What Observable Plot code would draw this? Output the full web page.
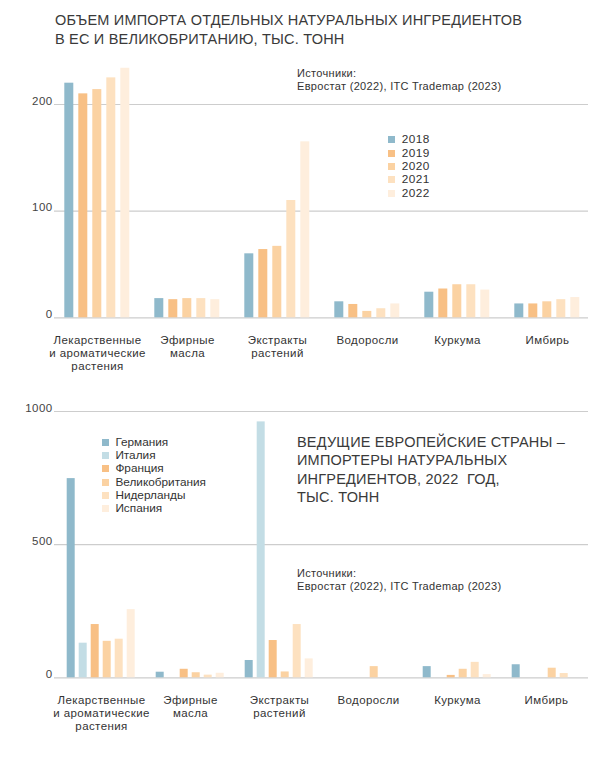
<!DOCTYPE html>
<html>
<head>
<meta charset="utf-8">
<script src="https://cdn.jsdelivr.net/npm/d3@7"></script>
<script src="https://cdn.jsdelivr.net/npm/@observablehq/plot@0.6"></script>
<style>
  html, body { margin: 0; padding: 0; background: #fff; }
  #page { position: relative; width: 600px; height: 758px; overflow: hidden; font-family: "Liberation Sans", Arial, sans-serif; color: #2b2b2b; }
  .layer { position: absolute; left: 0; }
  .layer svg { background: transparent !important; }
  .title { position: absolute; font-size: 14.5px; font-weight: 400; letter-spacing: 0.2px; color: #3a3a3a; white-space: pre; }
  .title .ln { display: block; height: 18.5px; line-height: 18.5px; }
  .source { position: absolute; font-size: 11px; letter-spacing: 0.32px; color: #333; white-space: nowrap; }
  .source .ln { display: block; height: 13px; line-height: 13px; }
  .legend { position: absolute; font-size: 11.8px; letter-spacing: 0px; color: #333; }
  .legend.years { letter-spacing: 0.5px; }
  .legend .row { display: flex; align-items: center; height: 13.3px; white-space: nowrap; }
  .legend .tx { display: inline-block; height: 13px; line-height: 13px; }
  .legend .sw { width: 7px; height: 7px; margin-right: 6.7px; flex: none; }
</style>
</head>
<body>
<div id="page"></div>
<script>
// ---------- DATA ----------
const categories = ["Лекарственные и ароматические растения", "Эфирные масла", "Экстракты растений", "Водоросли", "Куркума", "Имбирь"];
const categoryLabels = ["Лекарственные\nи ароматические\nрастения", "Эфирные\nмасла", "Экстракты\nрастений", "Водоросли", "Куркума", "Имбирь"];

// Chart 1: imports by year, thousand tonnes
const years = ["2018", "2019", "2020", "2021", "2022"];
const imports2018 = [220, 18, 60, 15, 24, 13];
const imports2019 = [210, 17, 64, 12.5, 27, 13];
const imports2020 = [214, 18, 67, 6, 31, 15];
const imports2021 = [225, 18, 110, 8.5, 31, 17];
const imports2022 = [234, 17, 165, 13, 26, 19];
const yearColors = ["#8fb9cb", "#f8c085", "#fbd2a2", "#fde1c0", "#feeedd"];
const ticks1 = [0, 100, 200];

// Chart 2: leading importers, 2022, thousand tonnes
const countries = ["Германия", "Италия", "Франция", "Великобритания", "Нидерланды", "Испания"];
const germany = [748, 21, 65, 0, 42, 49];
const italy = [130, 0, 961, 0, 0, 0];
const france = [200, 32, 140, 0, 9, 0];
const uk = [137, 19, 22, 42, 32, 36];
const netherlands = [145, 10, 200, 0, 58, 16];
const spain = [256, 17, 71, 0, 12, 0];
const countryColors = ["#8fb9cb", "#c3dde5", "#f8c085", "#fbd2a2", "#fde1c0", "#feeedd"];
const ticks2 = [0, 500, 1000];

const title1 = ["ОБЪЕМ ИМПОРТА ОТДЕЛЬНЫХ НАТУРАЛЬНЫХ ИНГРЕДИЕНТОВ", "В ЕС И ВЕЛИКОБРИТАНИЮ, ТЫС. ТОНН"];
const title2 = ["ВЕДУЩИЕ ЕВРОПЕЙСКИЕ СТРАНЫ –", "ИМПОРТЕРЫ НАТУРАЛЬНЫХ", "ИНГРЕДИЕНТОВ, 2022  ГОД,", "ТЫС. ТОНН"];
const sourceLines = ["Источники:", "Евростат (2022), ITC Trademap (2023)"];

// ---------- BUILD ----------
const page = document.getElementById("page");
const FONT = "Liberation Sans, Arial, sans-serif";

const series1 = [imports2018, imports2019, imports2020, imports2021, imports2022];
const table1 = [];
years.forEach((yr, j) => categories.forEach((c, i) => table1.push({category: c, key: yr, value: series1[j][i]})));

const series2 = [germany, italy, france, uk, netherlands, spain];
const table2 = [];
countries.forEach((k, j) => categories.forEach((c, i) => table2.push({category: c, key: k, value: series2[j][i]})));

const labelOf = d => categoryLabels[categories.indexOf(d)];
const textColor = "#333";

function addLayer(node, top) {
  const div = document.createElement("div");
  div.className = "layer";
  div.style.top = top + "px";
  div.appendChild(node);
  page.appendChild(div);
}

function drawChart(cfg) {
  const common = {
    width: 600, height: cfg.height,
    marginTop: cfg.marginTop, marginBottom: cfg.marginBottom,
    style: {background: "transparent", fontFamily: FONT, color: textColor, letterSpacing: "0.4px"}
  };
  // grid + y ticks
  const grid = Plot.plot({
    ...common,
    marginLeft: 54, marginRight: 12,
    y: {domain: cfg.yDomain, axis: null},
    marks: [
      Plot.ruleY(cfg.ticks, {stroke: "#cdcdcd", strokeWidth: 1.2}),
      Plot.axisY(cfg.ticks, {tickSize: 0, tickPadding: 2, dy: -3.5, fontSize: 11.5, fill: "#444", tickFormat: d => String(d), label: null})
    ]
  });
  addLayer(grid, cfg.top);
  // bars
  const bars = Plot.plot({
    ...common,
    marginLeft: cfg.marginLeft, marginRight: cfg.marginRight,
    fx: {domain: categories, paddingInner: cfg.fxPad, paddingOuter: 0, label: null, axis: null},
    x: {domain: cfg.keys, paddingInner: cfg.xPad, paddingOuter: 0, axis: null},
    y: {domain: cfg.yDomain, axis: null},
    color: {domain: cfg.keys, range: cfg.colors},
    marks: [
      Plot.barY(cfg.data, {fx: "category", x: "key", y: "value", fill: "key"}),
      Plot.axisFx({anchor: "bottom", tickSize: 0, tickPadding: 16.5, tickFormat: labelOf, fontSize: 11.5, lineHeight: 1.16, lineAnchor: "top", fill: textColor, label: null})
    ]
  });
  addLayer(bars, cfg.top);
}

drawChart({top: 0, height: 380, marginTop: 50.7, marginBottom: 62.7, marginLeft: 61.7, marginRight: 18.3,
  fxPad: 20 / 90, xPad: 1 / 3, yDomain: [0, 250], ticks: ticks1, keys: years, colors: yearColors, data: table1});

drawChart({top: 390, height: 368, marginTop: 21, marginBottom: 80.7, marginLeft: 62.3, marginRight: 15,
  fxPad: 0.192, xPad: 0.32, yDomain: [0, 1000], ticks: ticks2, keys: countries, colors: countryColors, data: table2});

// titles
function addText(cls, lines, left, top) {
  const div = document.createElement("div");
  div.className = cls;
  div.style.left = left + "px";
  div.style.top = top + "px";
  lines.forEach(l => {
    const d = document.createElement("span");
    d.className = "ln";
    d.textContent = l;
    div.appendChild(d);
  });
  page.appendChild(div);
  return div;
}
addText("title", title1, 55, 11);
addText("title", title2, 297, 432.5);
addText("source", sourceLines, 297, 67);
addText("source", sourceLines, 297, 566.5);

function addLegend(keys, colors, left, top, extra) {
  const div = document.createElement("div");
  div.className = "legend " + extra;
  div.style.left = left + "px";
  div.style.top = top + "px";
  keys.forEach((k, i) => {
    const row = document.createElement("div");
    row.className = "row";
    const sw = document.createElement("span");
    sw.className = "sw";
    sw.style.background = colors[i];
    const tx = document.createElement("span");
    tx.className = "tx";
    tx.textContent = k;
    row.appendChild(sw);
    row.appendChild(tx);
    div.appendChild(row);
  });
  page.appendChild(div);
}
addLegend(years, yearColors, 388, 133.3, "years");
addLegend(countries, countryColors, 101.7, 435.6, "countries");
</script>
</body>
</html>
